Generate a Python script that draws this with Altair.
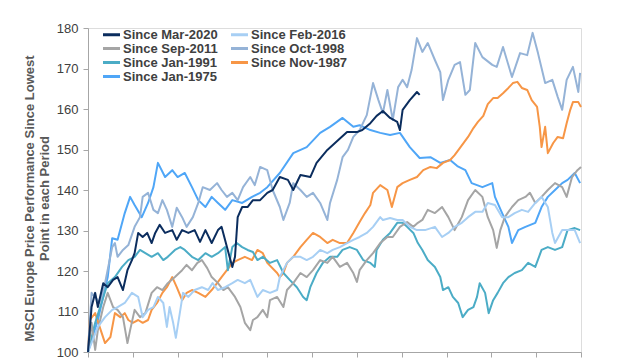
import altair as alt
import pandas as pd

# ---- categories / styling lists ----
series = ["Since Mar-2020", "Since Feb-2016", "Since Sep-2011", "Since Oct-1998",
          "Since Jan-1991", "Since Nov-1987", "Since Jan-1975"]
series_colors = {
    "Since Mar-2020": "#0B2D5E", "Since Feb-2016": "#A7CFF4", "Since Sep-2011": "#A5A5A5",
    "Since Oct-1998": "#95B3D7", "Since Jan-1991": "#4BACC6", "Since Nov-1987": "#F79646",
    "Since Jan-1975": "#4FA6F7",
}
# legend fills column by column: first column, then second column
legend_order = ["Since Mar-2020", "Since Sep-2011", "Since Jan-1991", "Since Jan-1975",
                "Since Feb-2016", "Since Oct-1998", "Since Nov-1987"]
y_ticks = [100, 110, 120, 130, 140, 150, 160, 170, 180]
x_ticks = list(range(0, 551, 50))
y_title = ["MSCI Europe Price Performance Since Lowest", "Point in each Period"]

# ---- series values (x = trading days since the low, y = index, low = 100) ----
mar2020_x = [0, 4, 8, 11, 17, 22, 28, 33, 39, 44, 49, 52, 56, 61, 66, 71, 75, 80, 86, 94, 99, 105,
             112, 119, 125, 131, 138, 145, 149, 155, 161, 164, 167, 172, 178, 184, 192, 200, 206,
             214, 223, 229, 237, 248, 255, 267, 278, 289, 300, 306, 315, 322, 329, 337, 345, 348,
             351, 359, 367, 370]
mar2020_y = [100, 111.1, 114.6, 111.1, 117.0, 116.0, 117.8, 118.5, 115.3, 120.2, 122.7, 124.4,
             129.4, 128.4, 129.4, 126.9, 129.4, 131.4, 129.4, 130.1, 127.7, 130.1, 129.4, 130.1,
             127.2, 130.1, 126.9, 130.1, 130.9, 125.9, 121.0, 123.5, 133.3, 135.8, 135.8, 137.5,
             137.5, 139.3, 140.0, 143.2, 142.5, 140.0, 143.7, 143.2, 146.7, 149.9, 152.1, 154.3,
             154.3, 154.8, 156.5, 158.3, 159.5, 157.8, 156.8, 154.8, 159.8, 162.2, 164.2, 163.5]

feb2016_x = [0, 11, 19, 27, 33, 41, 49, 56, 61, 67, 73, 78, 84, 88, 91, 95, 98, 103, 106, 112, 119,
             127, 134, 139, 145, 153, 161, 167, 175, 181, 189, 195, 203, 211, 214, 222, 229, 237,
             244, 251, 259, 267, 273, 281, 289, 296, 303, 311, 318, 326, 329, 337, 345, 351, 359,
             367, 376, 387, 395, 402, 409, 417, 424, 432, 440, 446, 454, 462, 469, 476, 484, 491,
             499, 506, 513, 518, 521, 529, 535, 543, 549]
feb2016_y = [100, 106.2, 108.6, 110.4, 111.1, 112.1, 114.6, 113.6, 108.6, 110.4, 111.1, 113.6,
             112.1, 106.2, 111.1, 107.2, 103.5, 110.4, 114.6, 113.6, 115.3, 116.0, 115.3, 117.0,
             115.3, 116.0, 117.0, 117.8, 117.0, 117.8, 113.6, 115.3, 114.6, 115.3, 118.5, 122.0,
             123.5, 123.5, 122.7, 123.5, 125.2, 124.4, 125.2, 125.9, 126.9, 127.7, 128.4, 129.4,
             130.9, 133.3, 132.6, 133.1, 132.6, 132.6, 130.9, 130.1, 130.1, 130.9, 128.4, 129.4,
             130.9, 131.9, 133.3, 134.6, 134.6, 136.8, 136.3, 133.3, 133.3, 134.3, 135.1, 134.6,
             136.8, 138.3, 135.8, 129.4, 126.9, 130.1, 130.1, 130.1, 126.9]

sep2011_x = [0, 4, 8, 11, 17, 22, 28, 33, 39, 44, 47, 52, 58, 64, 71, 77, 83, 89, 97, 105, 110, 116,
             122, 127, 133, 138, 145, 151, 156, 164, 170, 175, 181, 184, 189, 195, 200, 203, 211,
             218, 222, 229, 237, 244, 251, 259, 267, 273, 281, 289, 296, 300, 303, 311, 318, 326,
             334, 340, 348, 356, 363, 368, 373, 379, 387, 395, 402, 409, 417, 424, 432, 440, 446,
             452, 456, 460, 465, 473, 480, 488, 493, 499, 506, 513, 521, 529, 534, 540, 546, 550]
sep2011_y = [100, 107.2, 100.5, 105.4, 111.1, 114.6, 111.1, 110.4, 108.6, 102.2, 105.4, 110.4,
             108.6, 109.6, 114.6, 116.0, 115.3, 117.0, 118.5, 120.2, 121.5, 120.2, 122.0, 122.7,
             120.7, 118.5, 117.0, 115.3, 116.0, 113.6, 111.1, 107.2, 105.4, 107.9, 108.6, 110.4,
             108.6, 112.8, 113.6, 111.1, 115.3, 117.0, 119.5, 118.5, 120.2, 122.7, 122.0, 123.5,
             121.0, 122.0, 119.5, 117.3, 120.2, 122.7, 124.4, 126.9, 128.4, 128.4, 130.9, 132.1,
             130.9, 131.9, 132.6, 135.1, 134.3, 135.8, 133.3, 130.1, 133.3, 137.5, 140.0, 138.3,
             133.3, 130.1, 125.7, 130.1, 133.3, 135.8, 137.5, 138.3, 139.3, 136.8, 138.3, 140.0,
             141.7, 140.7, 138.3, 143.2, 144.9, 145.7]

oct1998_x = [0, 4, 8, 13, 19, 27, 30, 33, 39, 45, 52, 58, 61, 67, 73, 78, 83, 88, 94, 99, 105, 110,
             117, 123, 128, 136, 144, 149, 155, 161, 167, 173, 181, 186, 192, 200, 206, 214, 218,
             225, 229, 237, 244, 251, 259, 267, 270, 278, 284, 290, 296, 303, 311, 318, 324, 329,
             334, 340, 346, 351, 356, 361, 367, 373, 379, 387, 393, 396, 402, 409, 415, 421, 426,
             432, 440, 451, 456, 463, 473, 482, 490, 496, 502, 510, 518, 524, 529, 534, 541, 547,
             549]
oct1998_y = [100, 114.6, 113.6, 112.1, 117.0, 125.9, 126.9, 123.5, 125.2, 126.4, 130.9, 133.3,
             138.3, 139.3, 135.1, 134.3, 137.5, 135.1, 130.9, 135.6, 133.3, 130.9, 133.3, 136.8,
             140.7, 140.0, 141.7, 140.0, 138.3, 139.3, 137.5, 140.7, 143.2, 141.2, 145.7, 144.9,
             140.0, 135.8, 132.6, 136.8, 141.7, 140.0, 138.3, 139.3, 136.8, 132.6, 136.8, 142.5,
             148.1, 149.9, 153.1, 154.8, 158.5, 166.4, 162.2, 159.0, 164.7, 157.3, 165.4, 167.2,
             165.4, 169.6, 177.5, 174.1, 176.3, 172.1, 169.1, 162.2, 167.2, 170.9, 171.6, 163.5,
             164.7, 176.3, 172.8, 170.9, 170.4, 175.3, 167.9, 173.8, 173.3, 178.8, 173.8, 166.4,
             167.2, 163.0, 159.8, 167.2, 170.4, 164.2, 168.9]

jan1991_x = [0, 8, 16, 22, 30, 38, 45, 52, 58, 64, 71, 78, 84, 89, 97, 103, 108, 116, 123, 131, 138,
             145, 153, 156, 161, 166, 172, 178, 184, 189, 195, 203, 211, 218, 225, 233, 240, 244,
             248, 255, 262, 270, 278, 284, 292, 300, 307, 315, 320, 322, 329, 337, 345, 351, 356,
             363, 368, 373, 379, 387, 393, 396, 402, 407, 413, 418, 424, 430, 434, 437, 443, 447,
             452, 457, 463, 469, 476, 484, 491, 499, 506, 513, 521, 529, 535, 543, 549]
jan1991_y = [100, 107.2, 112.8, 117.0, 118.5, 121.0, 122.7, 123.5, 125.2, 124.4, 123.5, 124.4,
             122.7, 123.5, 125.2, 125.9, 125.2, 123.5, 122.7, 124.4, 123.5, 124.4, 125.9, 120.2,
             125.9, 126.9, 125.9, 125.2, 124.7, 122.7, 123.5, 122.0, 122.7, 119.5, 117.8, 116.0,
             113.6, 112.8, 116.0, 119.5, 122.0, 123.5, 123.5, 125.2, 125.9, 125.2, 122.7, 122.0,
             121.0, 125.2, 127.7, 129.4, 131.9, 131.9, 130.9, 129.4, 126.9, 125.2, 122.7, 121.0,
             118.5, 115.3, 116.0, 113.6, 112.1, 108.6, 110.4, 111.1, 113.6, 117.0, 114.6, 109.6,
             112.8, 114.6, 117.0, 118.5, 119.5, 120.2, 122.0, 121.0, 125.2, 125.9, 125.2, 125.9,
             130.1, 130.6, 130.1]

nov1987_x = [0, 2, 8, 13, 19, 25, 30, 36, 41, 45, 50, 56, 61, 67, 71, 77, 83, 88, 94, 99, 105, 110,
             116, 123, 131, 138, 144, 149, 155, 161, 167, 175, 183, 189, 195, 200, 211, 214, 218,
             222, 229, 237, 244, 251, 259, 267, 273, 281, 289, 296, 303, 309, 315, 318, 326, 334,
             339, 345, 351, 359, 367, 374, 382, 389, 396, 404, 409, 415, 424, 430, 435, 441, 446,
             452, 457, 463, 469, 474, 479, 484, 490, 495, 501, 504, 506, 510, 513, 519, 524, 530,
             534, 538, 541, 547, 550]
nov1987_y = [100, 107.9, 109.6, 106.2, 102.2, 103.7, 109.6, 108.6, 109.6, 107.9, 107.2, 107.9,
             107.2, 107.9, 110.4, 112.1, 114.6, 116.0, 118.5, 116.0, 112.8, 114.6, 115.3, 114.6,
             113.6, 115.3, 117.0, 118.5, 120.2, 122.0, 122.7, 123.5, 122.7, 125.2, 124.4, 122.0,
             119.5, 118.5, 119.5, 122.0, 123.5, 125.9, 127.7, 129.4, 128.4, 126.9, 127.7, 126.9,
             126.9, 129.4, 132.1, 134.3, 136.3, 139.3, 141.2, 140.0, 135.8, 140.7, 141.7, 142.5,
             143.2, 144.9, 145.7, 145.4, 146.7, 147.4, 148.6, 150.4, 153.1, 155.3, 156.8, 158.3,
             161.2, 162.7, 162.7, 163.9, 165.2, 166.4, 166.7, 165.2, 164.7, 162.2, 160.5, 155.6,
             150.6, 155.6, 149.1, 151.6, 153.1, 152.8, 156.5, 159.8, 161.7, 161.7, 160.5]

jan1975_x = [0, 11, 22, 27, 33, 41, 47, 52, 60, 67, 73, 78, 86, 94, 100, 108, 116, 123, 131, 138,
             145, 153, 161, 172, 183, 192, 200, 214, 229, 244, 259, 270, 284, 296, 303, 315, 326,
             337, 348, 359, 370, 382, 393, 404, 412, 421, 428, 440, 451, 454, 462, 469, 473, 480,
             488, 499, 506, 513, 521, 529, 535, 543, 549]
jan1975_y = [100, 107.9, 118.5, 128.1, 127.7, 134.3, 138.3, 136.3, 133.3, 136.8, 140.7, 146.7,
             143.2, 144.9, 143.2, 144.2, 140.7, 137.5, 135.8, 138.3, 136.8, 135.1, 137.5, 136.8,
             138.3, 139.3, 140.7, 144.2, 149.1, 150.6, 154.1, 155.6, 157.8, 155.6, 156.0, 154.8,
             154.1, 153.6, 154.1, 150.6, 147.9, 148.1, 146.7, 147.4, 145.9, 144.9, 141.7, 140.7,
             141.7, 138.3, 134.3, 130.9, 126.9, 130.1, 130.9, 131.9, 135.8, 138.3, 140.0, 141.7,
             142.5, 144.2, 141.7]

values = {
    "Since Mar-2020": (mar2020_x, mar2020_y),
    "Since Feb-2016": (feb2016_x, feb2016_y),
    "Since Sep-2011": (sep2011_x, sep2011_y),
    "Since Oct-1998": (oct1998_x, oct1998_y),
    "Since Jan-1991": (jan1991_x, jan1991_y),
    "Since Nov-1987": (nov1987_x, nov1987_y),
    "Since Jan-1975": (jan1975_x, jan1975_y),
}

FONT = "Liberation Sans"
AXIS_GREY = "#A6A6A6"

color_scale = alt.Scale(domain=legend_order, range=[series_colors[s] for s in legend_order])
legend = alt.Legend(
    orient="none", legendX=17, legendY=0, columns=2, title=None,
    symbolType="M-1.7,0L1.7,0", symbolSize=100, symbolStrokeWidth=3,
    symbolFillColor="transparent",
    labelFont=FONT, labelFontSize=13, labelFontWeight="bold", labelColor="#404040",
    labelOffset=5, rowPadding=-1, columnPadding=7, padding=0, labelLimit=200,
)

x_enc = alt.X("day:Q", scale=alt.Scale(domain=[0, 550], nice=False),
              axis=alt.Axis(values=x_ticks, labels=False, title=None, grid=False,
                            domainColor=AXIS_GREY, tickColor=AXIS_GREY, tickSize=5))
y_enc = alt.Y("value:Q", scale=alt.Scale(domain=[100, 180], nice=False, zero=False),
              axis=alt.Axis(values=y_ticks, grid=False, title=y_title,
                            domainColor=AXIS_GREY, tickColor=AXIS_GREY, tickSize=5,
                            labelFont=FONT, labelFontSize=13, labelColor="#404040",
                            labelPadding=5,
                            titleFont=FONT, titleFontSize=13, titleFontWeight="bold",
                            titleColor="#595959", titleAngle=270, titleX=-65, titleY=170,
                            titleBaseline="top", titleAlign="center", titleLineHeight=15))

layers = []
for name in reversed(series):
    xs, ys = values[name]
    df = pd.DataFrame({"day": xs, "value": ys, "series": name})
    layers.append(
        alt.Chart(df).mark_line(strokeWidth=2, strokeJoin="round").encode(
            x=x_enc, y=y_enc,
            color=alt.Color("series:N", scale=color_scale, legend=legend),
        )
    )

chart = alt.layer(*layers).properties(
    width=493, height=324,
    autosize="none",
    padding={"left": 80, "top": 20, "right": 40, "bottom": 6},
).configure_view(stroke=None).configure(background="white")

chart.save("out.html", embed_options={"renderer": "svg", "actions": False})
